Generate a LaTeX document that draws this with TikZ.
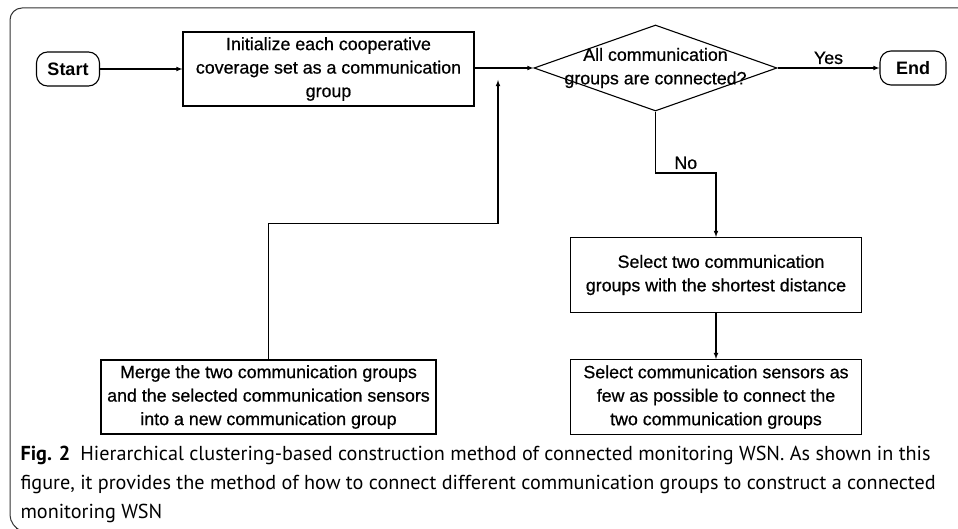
\documentclass[tikz,border=0pt]{standalone}
\usepackage{fontspec}
\setmainfont{Liberation Sans}
\newfontfamily\boxfont[FakeBold=0.7]{Liberation Sans}
\newfontfamily\capfont{PT Sans}
\usetikzlibrary{shapes,arrows}
\usetikzlibrary{positioning}

\begin{document}
\begin{tikzpicture}[x=1pt, y=-1pt, >=latex, line width=1.1pt,
    font=\boxfont\fontsize{17.8}{23.5}\selectfont,
    process/.style={draw, rectangle, align=center, inner sep=0pt,
      minimum width=291pt, minimum height=75pt},
    terminal/.style={draw, rectangle, rounded corners=11pt, inner sep=0pt,
      minimum height=34pt, font=\fontsize{18}{22}\selectfont\bfseries},
    decision/.style={draw, diamond, inner sep=0pt,
      minimum width=243pt, minimum height=86pt}]
    \useasboundingbox (0,0) rectangle (958,529);

    % open frame round the figure
    \draw[line width=1pt, black!80, rounded corners=12pt]
      (958,8) -- (10,8) -- (10,527) -- (16,529);

    % main line of the flow
    \node[terminal, minimum width=63pt] (start) at (68,69) {Start};
    \node[process, minimum height=74pt] (init) at (328.5,69)
      {Initialize each cooperative\\coverage set as a communication\\group};
    \node[decision, label={[align=center]center:All communication\\groups are connected?}]
      (check) at (655.5,68) {};
    \node[terminal, minimum width=66pt] (end) at (913,68) {End};

    % loop body
    \node[process] (select) at (716,275)
      {\hspace*{10pt}Select two communication\\groups with the shortest distance};
    \node[process] (sensors) [below=46pt of select]
      {Select communication sensors as\\few as possible to connect the\\two communication groups};
    \node[process, minimum width=335pt, minimum height=74pt] (merge) at (268.5,397)
      {Merge the two communication groups\\and the selected communication sensors\\into a new communication group};

    \coordinate (bend) at (716,173);
    \coordinate (back) at (498,80);

    \path[->]
    (start) edge (init)
    (check) edge node[above] {Yes} (end)
    (select) edge (sensors);
    \draw[->] (init.east |- check.west) -- (check.west);
    \draw[->] (check.south) |- node[pos=0.75, above] {No} (bend) -- (select.north);
    \draw[->] (merge.north) -- ++(0,-136) -| (back);

    % caption
    \node[anchor=north west, align=left, inner sep=0pt,
      font=\capfont\fontsize{20.2}{29}\selectfont] (caption) at (20,446)
      {{\bfseries Fig. 2}\enspace Hierarchical clustering-based construction method of connected monitoring WSN. As shown in this\\
      figure, it provides the method of how to connect different communication groups to construct a connected\\
      monitoring WSN};
\end{tikzpicture}
\end{document}
